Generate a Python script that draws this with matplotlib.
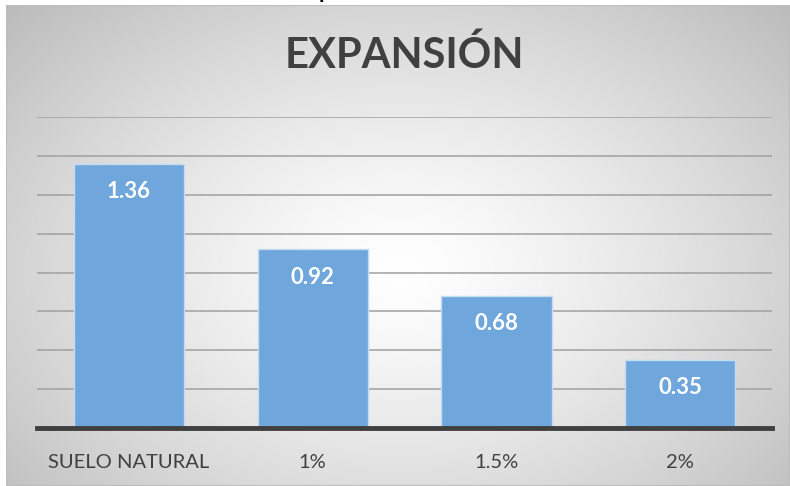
import numpy as np
import matplotlib.pyplot as plt
from matplotlib.patches import Rectangle

plt.rcParams['font.family'] = ['Lato', 'DejaVu Sans']

# Data
categories = ['SUELO NATURAL', '1%', '1.5%', '2%']
expansion = [1.36, 0.92, 0.68, 0.35]
labels = ['1.36', '0.92', '0.68', '0.35']

W, H = 790, 486
fig = plt.figure(figsize=(W / 100, H / 100), dpi=100)
fig.patch.set_facecolor('white')

# Chart frame with radial gradient background
x0, y0 = 6, 5  # frame top-left in pixels
bg = fig.add_axes([x0 / W, 0, 1 - x0 / W, 1 - y0 / H])
bg.set_axis_off()
gx, gy = np.meshgrid(np.linspace(x0, W, 400), np.linspace(y0, H, 250))
r = np.hypot((gx - 400) / 470, (gy - 270) / 330)
shade = 1.0 - 0.22 * np.clip(r, 0, 1.25) ** 1.3
bg.imshow(np.dstack([shade] * 3), extent=[0, 1, 0, 1], aspect='auto',
          interpolation='bilinear', origin='upper')
bg.set_xlim(0, 1)
bg.set_ylim(0, 1)
bg.add_patch(Rectangle((0, 0), 1, 1, fill=False, edgecolor='#bdbdbd',
                       lw=1.5, transform=bg.transAxes))

# Fragment of text cut off at the top
fig.text(319 / W, 1 + 2 / H, 'p', fontsize=16, color='black',
         fontweight='bold', va='baseline', ha='left')

# Plot area
ax = fig.add_axes([37 / W, (H - 428) / H, (772 - 37) / W, (428 - 117) / H])
ax.patch.set_alpha(0)
x = np.arange(len(categories))
bars = ax.bar(x, expansion, width=0.6, color='#6fa6db', edgecolor='#c5dcf0',
              linewidth=1, zorder=3)
ax.set_xlim(-0.5, len(categories) - 0.5)
ax.set_ylim(0, 1.6)
ax.set_yticks(np.arange(0.2, 1.61, 0.2))
ax.yaxis.grid(True, color='#a0a0a0', linewidth=1.3, alpha=0.85, zorder=1)
ax.tick_params(axis='y', left=False, labelleft=False)
ax.tick_params(axis='x', bottom=False, pad=15, labelsize=14.5,
               labelcolor='#404040')
ax.set_xticks(x)
ax.set_xticklabels(categories)
for s in ['top', 'right', 'left']:
    ax.spines[s].set_visible(False)
ax.spines['bottom'].set_color('#404040')
ax.spines['bottom'].set_linewidth(3.5)
ax.spines['bottom'].set_zorder(4)

for b, lab in zip(bars, labels):
    ax.annotate(lab, (b.get_x() + b.get_width() / 2, b.get_height()),
                xytext=(0, -28), textcoords='offset pixels', ha='center',
                va='center', color='white', fontsize=16, fontweight='bold',
                zorder=5)

fig.text(404.5 / W, 1 - 55 / H, 'EXPANSIÓN', fontsize=30, fontweight='bold',
         color='#404040', ha='center', va='center')

fig.savefig('out.png', dpi=100)
